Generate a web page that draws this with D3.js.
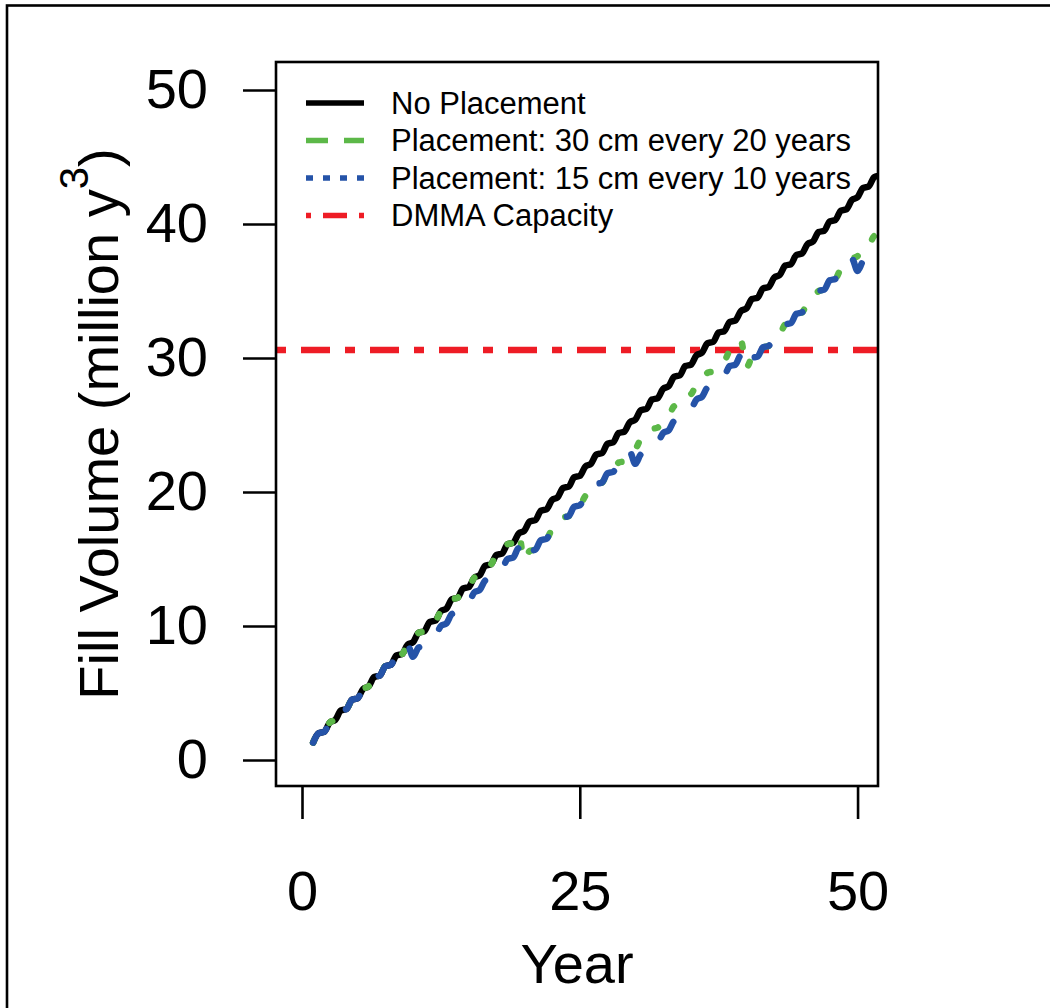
<!DOCTYPE html>
<html lang="en">
  <head>
    <meta charset="UTF-8" />
    <title>Fill Volume</title>
    <style>
      body { margin: 0; background: #fff; }
      svg text { font-family: "Liberation Sans", Arial, sans-serif; fill: #000; }
    </style>
  </head>
  <body>
    <script src="https://cdn.jsdelivr.net/npm/d3@7/dist/d3.min.js"></script>
    <script>
    // values every half year, year 1 to year 52
    var years = d3.range(1, 52.01, 0.5);

    var noPlacement = [
      1.3,2.0, 2.1,2.8, 3.0,3.7, 3.8,4.5, 4.6,5.3, 5.5,6.2, 6.3,7.0, 7.1,7.8, 7.9,8.6, 8.8,9.5,
      9.6,10.3, 10.4,11.1, 11.3,12.0, 12.1,12.8, 12.9,13.6, 13.8,14.5, 14.6,15.3, 15.4,16.1, 16.2,16.9, 17.1,17.8,
      17.9,18.6, 18.7,19.4, 19.6,20.3, 20.4,21.1, 21.2,21.9, 22.1,22.8, 22.9,23.6, 23.7,24.4, 24.5,25.2, 25.4,26.1,
      26.2,26.9, 27.0,27.7, 27.9,28.6, 28.7,29.4, 29.5,30.2, 30.4,31.1, 31.2,31.9, 32.0,32.7, 32.8,33.5, 33.7,34.4,
      34.5,35.2, 35.3,36.0, 36.2,36.9, 37.0,37.7, 37.8,38.5, 38.7,39.4, 39.5,40.2, 40.3,41.0, 41.1,41.8, 42.0,42.7,
      42.8,43.5, 43.6
    ];

    var place30every20 = [
      1.3,2.0, 2.1,2.8, 3.0,3.7, 3.8,4.5, 4.6,5.3, 5.5,6.2, 6.3,7.0, 7.1,7.8, 7.9,8.6, 8.8,9.5,
      9.6,10.3, 10.4,11.1, 11.3,12.0, 12.1,12.8, 12.9,13.6, 13.8,14.5, 14.6,15.3, 15.4,16.1, 16.2,16.9, 14.9,15.6,
      15.7,16.4, 16.5,17.2, 17.4,18.1, 18.2,18.9, 19.0,19.7, 19.9,20.6, 20.7,21.4, 21.5,22.2, 22.3,23.0, 23.2,23.9,
      24.0,24.7, 24.8,25.5, 25.7,26.4, 26.5,27.2, 27.3,28.0, 28.2,28.9, 29.0,29.7, 29.8,30.5, 30.6,31.3, 29.3,30.0,
      30.1,30.8, 30.9,31.6, 31.8,32.5, 32.6,33.3, 33.4,34.1, 34.3,35.0, 35.1,35.8, 35.9,36.6, 36.7,37.4, 37.6,38.3,
      38.4,39.1, 39.2
    ];

    var place15every10 = [
      1.3,2.0, 2.1,2.8, 3.0,3.7, 3.8,4.5, 4.6,5.3, 5.5,6.2, 6.3,7.0, 7.1,7.8, 7.9,8.6, 7.7,8.4,
      8.5,9.2, 9.3,10.0, 10.2,10.9, 11.0,11.7, 11.8,12.5, 12.7,13.4, 13.5,14.2, 14.3,15.0, 15.1,15.8, 14.9,15.6,
      15.7,16.4, 16.5,17.2, 17.4,18.1, 18.2,18.9, 19.0,19.7, 19.9,20.6, 20.7,21.4, 21.5,22.2, 22.3,23.0, 22.1,22.8,
      22.9,23.6, 23.7,24.4, 24.6,25.3, 25.4,26.1, 26.2,26.9, 27.1,27.8, 27.9,28.6, 28.7,29.4, 29.5,30.2, 29.3,30.0,
      30.1,30.8, 30.9,31.6, 31.8,32.5, 32.6,33.3, 33.4,34.1, 34.3,35.0, 35.1,35.8, 35.9,36.6, 36.7,37.4, 36.5,37.2,
      37.3,38.0, 38.1
    ];

    var dmmaCapacity = 30.6;

    var xTicks = [0, 25, 50];
    var yTicks = [0, 10, 20, 30, 40, 50];
    var legendLabels = ["No Placement", "Placement: 30 cm every 20 years",
                        "Placement: 15 cm every 10 years", "DMMA Capacity"];

    var width = 1050;
    var height = 1008;
    var plot = { left: 276, right: 878, top: 62, bottom: 786 };

    var xScale = d3.scaleLinear()
                   .domain([-2.34, 51.84])
                   .range([plot.left, plot.right]);

    var yScale = d3.scaleLinear()
                   .domain([-1.94, 52.09])
                   .range([plot.bottom, plot.top]);

    var svg = d3.select("body").append("svg")
                .attr("width", width)
                .attr("height", height);

    // outer frame (runs off the right and bottom edges)
    svg.append("rect")
       .attr("x", 7).attr("y", 5.5)
       .attr("width", 1200).attr("height", 1200)
       .attr("fill", "none")
       .attr("stroke", "#000")
       .attr("stroke-width", 2.6);

    svg.append("clipPath").attr("id", "clip")
       .append("rect")
       .attr("x", plot.left).attr("y", plot.top)
       .attr("width", plot.right - plot.left)
       .attr("height", plot.bottom - plot.top);

    // capacity line first, the model runs draw over it
    svg.append("line")
       .attr("x1", plot.left).attr("x2", plot.right)
       .attr("y1", yScale(dmmaCapacity)).attr("y2", yScale(dmmaCapacity))
       .attr("stroke", "#ee1c25")
       .attr("stroke-width", 6.5)
       .attr("stroke-dasharray", "10 15 29 15");

    var line = d3.line()
                 .x(function(d) { return xScale(d[0]); })
                 .y(function(d) { return yScale(d[1]); })
                 .curve(d3.curveMonotoneX);

    function pairs(vals) {
      return years.map(function(t, i) { return [t, vals[i]]; });
    }

    var runs = [
      { vals: noPlacement,    color: "#000000", dash: null },
      { vals: place30every20, color: "#5cb848", dash: "3.5 23.5" },
      { vals: place15every10, color: "#2553a8", dash: "20.5 29.5" }
    ];

    svg.append("g").attr("clip-path", "url(#clip)")
       .selectAll("path")
       .data(runs)
       .enter()
       .append("path")
       .attr("d", function(d) { return line(pairs(d.vals)); })
       .attr("fill", "none")
       .attr("stroke", function(d) { return d.color; })
       .attr("stroke-width", 6.5)
       .attr("stroke-linecap", "round")
       .attr("stroke-linejoin", "round")
       .attr("stroke-dasharray", function(d) { return d.dash; });

    // box
    svg.append("rect")
       .attr("x", plot.left).attr("y", plot.top)
       .attr("width", plot.right - plot.left)
       .attr("height", plot.bottom - plot.top)
       .attr("fill", "none")
       .attr("stroke", "#000")
       .attr("stroke-width", 2.6);

    var xAxis = d3.axisBottom(xScale)
                  .tickValues(xTicks)
                  .tickSize(33)
                  .tickPadding(51);

    var gx = svg.append("g")
                .attr("transform", "translate(0," + plot.bottom + ")")
                .call(xAxis);

    var yAxis = d3.axisLeft(yScale)
                  .tickValues(yTicks)
                  .tickSize(33)
                  .tickPadding(35);

    var gy = svg.append("g")
                .attr("transform", "translate(" + plot.left + ",0)")
                .call(yAxis);

    [gx, gy].forEach(function(g) {
      g.select(".domain").remove();
      g.selectAll(".tick line").attr("stroke", "#000").attr("stroke-width", 2.6);
      g.selectAll(".tick text")
       .attr("fill", "#000")
       .style("font-size", "56px")
       .style("font-family", "'Liberation Sans', Arial, sans-serif");
    });

    svg.append("text")
       .attr("x", (plot.left + plot.right) / 2)
       .attr("y", 983)
       .attr("text-anchor", "middle")
       .style("font-size", "56px")
       .text("Year");

    var ylab = svg.append("text")
                  .attr("transform", "translate(118," + ((plot.top + plot.bottom) / 2) + ") rotate(-90)")
                  .attr("text-anchor", "middle")
                  .style("font-size", "56px");
    ylab.append("tspan").text("Fill Volume (million y");
    ylab.append("tspan").attr("dy", -30).style("font-size", "40px").text("3");
    ylab.append("tspan").attr("dy", 30).text(")");

    // legend
    var legendStyle = [
      { color: "#000000", dash: null },
      { color: "#5cb848", dash: "22 16" },
      { color: "#2553a8", dash: "7 10" },
      { color: "#ee1c25", dash: "5 12 24 12" }
    ];
    var legendY = [103, 140.5, 178, 215.5];

    var leg = svg.selectAll(".legend")
                 .data(legendLabels)
                 .enter()
                 .append("g")
                 .attr("class", "legend")
                 .attr("transform", function(d, i) { return "translate(0," + legendY[i] + ")"; });

    leg.append("line")
       .attr("x1", 306).attr("x2", 364)
       .attr("stroke", function(d, i) { return legendStyle[i].color; })
       .attr("stroke-width", 5.5)
       .attr("stroke-dasharray", function(d, i) { return legendStyle[i].dash; });

    leg.append("text")
       .attr("x", 391)
       .attr("dy", "0.35em")
       .style("font-size", "31px")
       .text(function(d) { return d; });
    </script>
  </body>
</html>
